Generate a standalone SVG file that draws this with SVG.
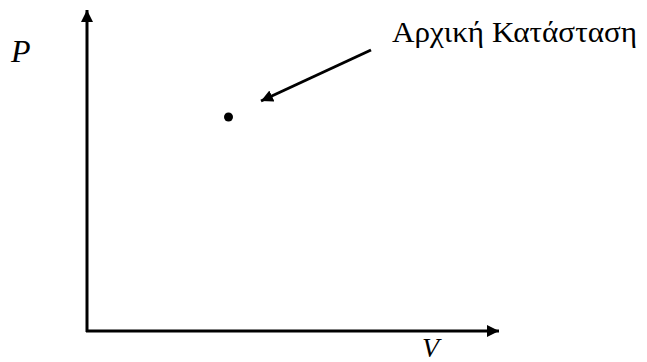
<svg xmlns="http://www.w3.org/2000/svg" width="647" height="362" viewBox="0 0 647 362">
<style>
.ax{stroke:#000;stroke-width:3;fill:none}
text{font-family:"Liberation Serif","Times New Roman",serif;fill:#000}
.it{font-style:italic}
</style>
<defs>
<marker id="ah" markerUnits="userSpaceOnUse" markerWidth="14" markerHeight="12" refX="12" refY="6" orient="auto">
<path d="M0,0 L12,6 L0,12 z" fill="#000"/>
</marker>
</defs>
<rect width="647" height="362" fill="#fff"/>
<g id="connectors">
<line class="ax" x1="87" y1="332" x2="87" y2="10" marker-end="url(#ah)"/>
<line class="ax" x1="86" y1="331" x2="499" y2="331" marker-end="url(#ah)"/>
<line x1="371" y1="50" x2="261" y2="101" stroke="#000" stroke-width="3" marker-end="url(#ah)"/>
</g>
<g id="point"><circle cx="228.5" cy="117" r="4.5" fill="#000"/></g>
<g id="label-P"><text class="it" x="11" y="62" font-size="32">P</text></g>
<g id="label-V"><text class="it" x="422" y="357" font-size="28">V</text></g>
<g id="label-state"><text x="392" y="42" font-size="30" textLength="245" lengthAdjust="spacingAndGlyphs">Αρχική Κατάσταση</text></g>
</svg>
